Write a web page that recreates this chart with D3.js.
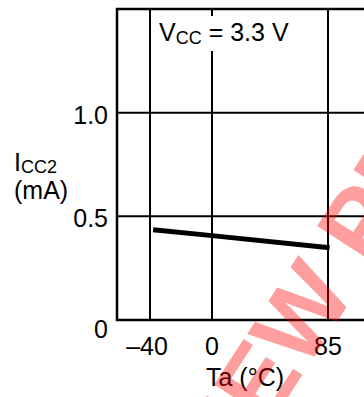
<!DOCTYPE html>
<html>
<head>
<meta charset="utf-8">
<script src="https://cdn.jsdelivr.net/npm/d3@7"></script>
<style>
  body { margin: 0; background: #fff; }
  svg { display: block; font-family: Arial, "Liberation Sans", sans-serif; }
</style>
</head>
<body>
<div id="chart"></div>
<script>
// data
var tempTicks = [-40, 0, 85];
var tempLabels = ['\u201340', '0', '85'];
var currentTicks = [0, 0.5, 1.0];
var currentLabels = ['0', '0.5', '1.0'];
var curveTemp = [-38, 0, 86];
var curveIcc = [0.435, 0.407, 0.348];

var width = 364, height = 397;

var svg = d3.select('#chart')
  .append('svg')
  .attr('width', width)
  .attr('height', height);

// the grid spacing on the original is not uniform, so a piecewise scale
var x = d3.scaleLinear().domain([-61, -40, 0, 85, 125]).range([117, 150, 212, 328, 390]);
var y = d3.scaleLinear().domain([0, 1.5]).range([320, 9]);

var plot = svg.append('g');

// grid lines
plot.selectAll('.vgrid')
  .data(tempTicks)
  .enter()
  .append('line')
  .attr('class', 'vgrid')
  .attr('x1', function(d) { return x(d); })
  .attr('x2', function(d) { return x(d); })
  .attr('y1', y(1.5))
  .attr('y2', y(0))
  .attr('stroke', '#000')
  .attr('stroke-width', 2);

plot.selectAll('.hgrid')
  .data(currentTicks.slice(1))
  .enter()
  .append('line')
  .attr('class', 'hgrid')
  .attr('x1', x(-61))
  .attr('x2', width + 5)
  .attr('y1', function(d) { return y(d); })
  .attr('y2', function(d) { return y(d); })
  .attr('stroke', '#000')
  .attr('stroke-width', 2);

// frame (right edge runs off the page)
plot.append('path')
  .attr('d', 'M' + (width + 5) + ',' + y(1.5) + 'H' + x(-61) + 'V' + y(0) + 'H' + (width + 5))
  .attr('fill', 'none')
  .attr('stroke', '#000')
  .attr('stroke-width', 2.5);

// curve
var pts = curveTemp.map(function(t, i) { return [t, curveIcc[i]]; });
var line = d3.line()
  .x(function(d) { return x(d[0]); })
  .y(function(d) { return y(d[1]); });

plot.append('path')
  .datum(pts)
  .attr('d', line)
  .attr('fill', 'none')
  .attr('stroke', '#000')
  .attr('stroke-width', 5);

// condition label with white box behind it
var cond = svg.append('g');
cond.append('rect')
  .attr('x', 156)
  .attr('y', 16)
  .attr('width', 142)
  .attr('height', 35)
  .attr('fill', '#fff');
var condText = cond.append('text')
  .attr('x', 159)
  .attr('y', 41)
  .attr('font-size', 25);
condText.append('tspan').text('V');
condText.append('tspan').attr('font-size', 18).attr('dy', 3).text('CC');
condText.append('tspan').attr('dy', -3).text(' = 3.3 V');

// y tick labels
svg.selectAll('.ylab')
  .data(currentTicks)
  .enter()
  .append('text')
  .attr('class', 'ylab')
  .attr('x', 108)
  .attr('y', function(d) { return y(d) + (d === 0 ? 18 : 11); })
  .attr('text-anchor', 'end')
  .attr('font-size', 25)
  .text(function(d, i) { return currentLabels[i]; });

// x tick labels
svg.selectAll('.xlab')
  .data(tempTicks)
  .enter()
  .append('text')
  .attr('class', 'xlab')
  .attr('x', function(d) { return x(d) - (d < 0 ? 3 : 0); })
  .attr('y', 355)
  .attr('text-anchor', 'middle')
  .attr('font-size', 25)
  .text(function(d, i) { return tempLabels[i]; });

// axis titles
svg.append('text')
  .attr('x', 245)
  .attr('y', 386)
  .attr('text-anchor', 'middle')
  .attr('font-size', 25)
  .text('Ta (\u00b0C)');

var yTitle = svg.append('text')
  .attr('x', 14)
  .attr('y', 171)
  .attr('font-size', 25);
yTitle.append('tspan').text('I');
yTitle.append('tspan').attr('font-size', 18).attr('dy', 2).text('CC2');
svg.append('text')
  .attr('x', 14)
  .attr('y', 199)
  .attr('font-size', 25)
  .text('(mA)');

// watermark
svg.append('text')
  .attr('transform', 'translate(229,488) rotate(-57)')
  .attr('font-size', 100)
  .attr('font-weight', 'bold')
  .attr('fill', 'red')
  .attr('fill-opacity', 0.38)
  .text('NEW PRODUCT');
</script>
</body>
</html>
